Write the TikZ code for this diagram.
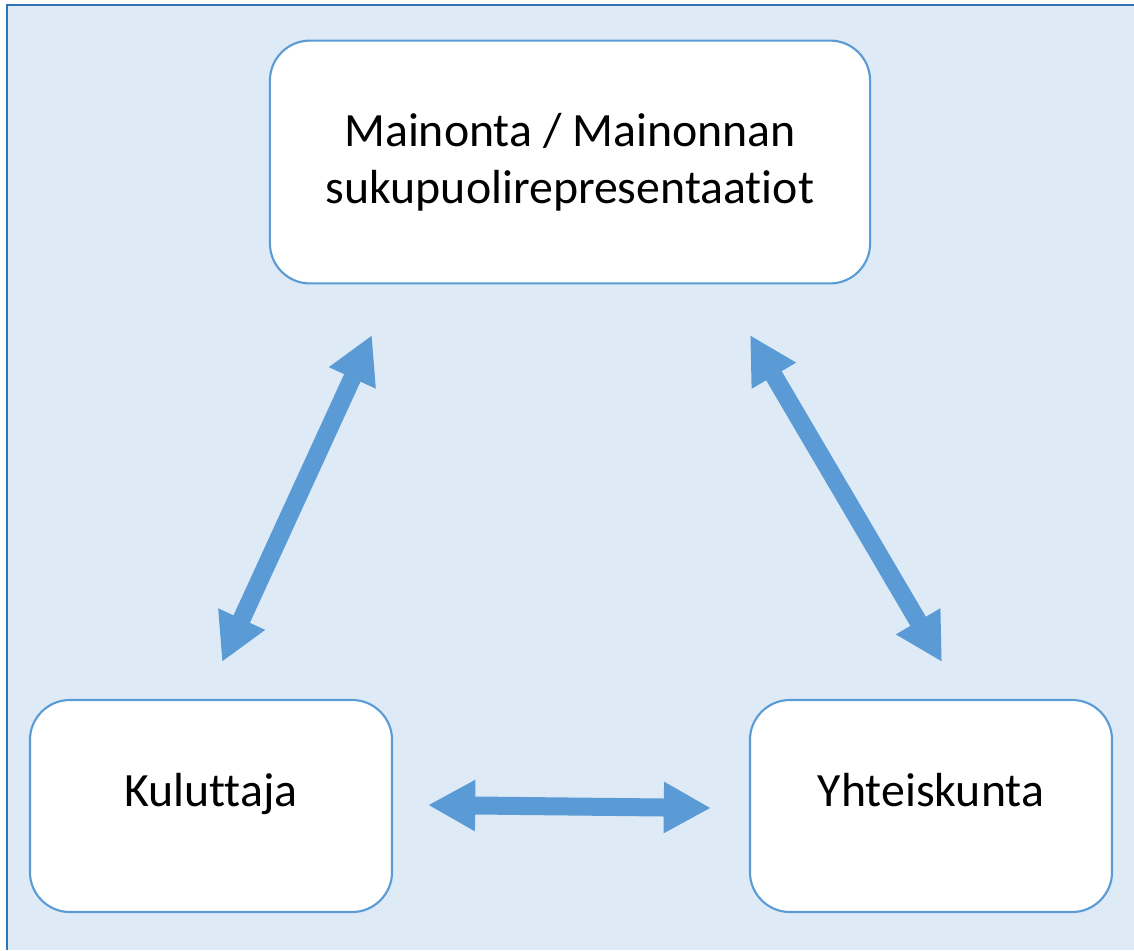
\documentclass[tikz,border=0pt]{standalone}
\usepackage{fontspec}
\setmainfont{Carlito}[Ligatures=NoCommon]
\usetikzlibrary{arrows.meta}
\definecolor{bgblue}{HTML}{DEEAF6}
\definecolor{framebl}{HTML}{2E75B6}
\definecolor{boxline}{HTML}{5B9BD5}
\begin{document}
\begin{tikzpicture}[x=0.025cm, y=-0.025cm,
      box/.style={rectangle,draw=boxline,line width=1.5pt,fill=white,rounded corners=1cm,align=center,font=\fontsize{34}{40.5}\selectfont,inner sep=0pt},
      smallbox/.style={box,minimum width=9.05cm,minimum height=5.3cm,text height=0pt,text depth=0pt},
      arr/.style={{Triangle[length=1.18cm,width=1.2cm]}-{Triangle[length=1.18cm,width=1.2cm]},line width=0.45cm,draw=boxline}
    ]
      \useasboundingbox (0,0) rectangle (1134,950);
      \fill[bgblue] (7,5) rectangle (1134,950);
      \draw[framebl,line width=1.2pt] (7,950) -- (7,5) -- (1134,5);

      \node[box,minimum width=15cm,minimum height=6.07cm] (mainonta) at (570,162) {Mainonta / Mainonnan\\sukupuolirepresentaatiot};
      \node[smallbox] (kuluttaja) at (211,806) {Kuluttaja};
      \node[smallbox] (yhteiskunta) at (931,806) {Yhteiskunta};

      \coordinate (k1) at (222,662);
      \coordinate (m1) at (372,335);
      \coordinate (m2) at (750,335);
      \coordinate (y1) at (942,662);
      \coordinate (k2) at (428,805);
      \coordinate (y2) at (711,808);

      \draw[arr] (k1) -- (m1);
      \draw[arr] (m2) -- (y1);
      \draw[arr] (k2) -- (y2);
    \end{tikzpicture}
\end{document}
